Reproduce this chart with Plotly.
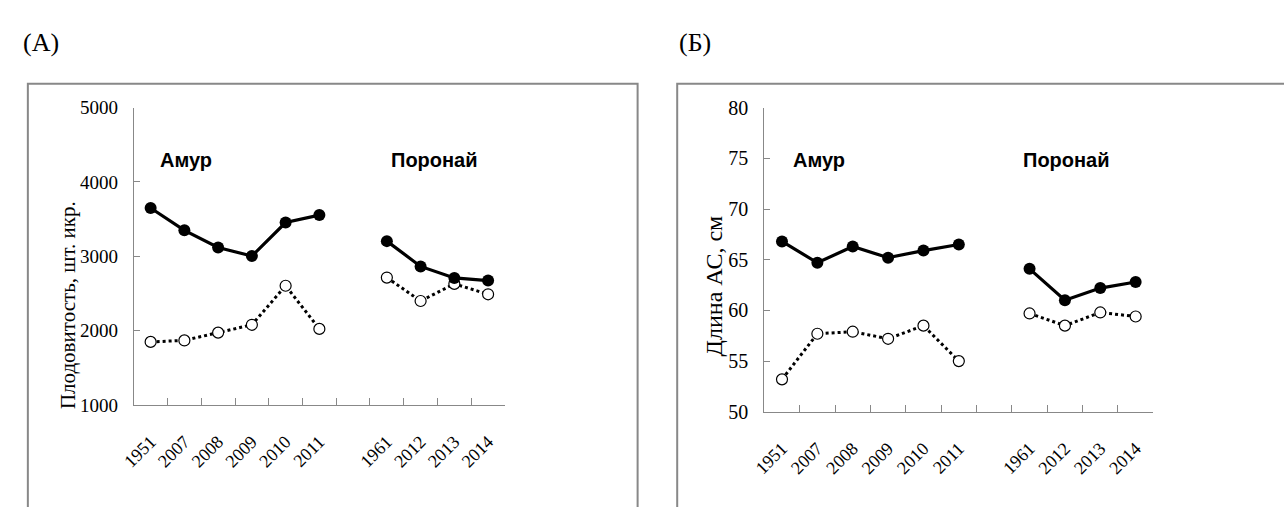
import plotly.graph_objects as go

categories = ["1951", "2007", "2008", "2009", "2010", "2011", " ", "1961", "2012", "2013", "2014"]

fecundity_solid = [3650, 3350, 3120, 3005, 3455, 3555, None, 3205, 2865, 2710, 2675]
fecundity_dotted = [1850, 1870, 1975, 2080, 2605, 2025, None, 2715, 2400, 2630, 2490]

length_solid = [66.8, 64.7, 66.3, 65.2, 65.9, 66.5, None, 64.1, 61.0, 62.2, 62.8]
length_dotted = [53.2, 57.7, 57.9, 57.2, 58.5, 55.0, None, 59.7, 58.5, 59.8, 59.4]

y_ticks_a = [1000, 2000, 3000, 4000, 5000]
y_ticks_b = [50, 55, 60, 65, 70, 75, 80]

W, H = 1284, 507
SERIF = "Liberation Serif"
SANS = "Liberation Sans"
GRAY = "#888888"

def px_x(p):
    return p / W

def px_y(p):
    return 1 - p / H

fig = go.Figure()

def add_pair(solid, dotted, xa, ya):
    fig.add_trace(go.Scatter(
        x=categories, y=dotted, xaxis=xa, yaxis=ya, mode="lines+markers",
        line=dict(color="black", width=3, dash="dot"),
        marker=dict(symbol="circle", size=11, color="white", line=dict(color="black", width=1.2)),
        connectgaps=False, showlegend=False))
    fig.add_trace(go.Scatter(
        x=categories, y=solid, xaxis=xa, yaxis=ya, mode="lines+markers",
        line=dict(color="black", width=3.2),
        marker=dict(symbol="circle", size=12, color="black"),
        connectgaps=False, showlegend=False))

add_pair(fecundity_solid, fecundity_dotted, "x", "y")
add_pair(length_solid, length_dotted, "x2", "y2")

def xaxis_style(size):
    return dict(
        type="category", categoryorder="array", categoryarray=categories,
        showline=True, linecolor=GRAY, linewidth=1, ticks="inside", ticklen=7,
        tickcolor=GRAY, tickson="boundaries", tickangle=-45, showgrid=False,
        zeroline=False, tickfont=dict(family=SERIF, size=size, color="black"),
        ticklabelstandoff=18,
        range=[-0.5, len(categories) - 0.5])

def yaxis_style(size):
    return dict(
        showline=True, linecolor=GRAY, linewidth=1, ticks="inside", ticklen=6,
        tickcolor=GRAY, showgrid=False, zeroline=False, ticklabelstandoff=11,
        tickfont=dict(family=SERIF, size=size, color="black"))

fig.update_layout(
    width=W, height=H, margin=dict(l=0, r=0, t=0, b=0),
    paper_bgcolor="white", plot_bgcolor="white",
    xaxis=dict(domain=[px_x(122), px_x(497)], anchor="y", **xaxis_style(18)),
    yaxis=dict(domain=[px_y(412), px_y(101)], anchor="x", range=[1000, 5000],
               tickvals=y_ticks_a, **yaxis_style(19)),
    xaxis2=dict(domain=[px_x(759), px_x(1152)], anchor="y2", **xaxis_style(18)),
    yaxis2=dict(domain=[px_y(419), px_y(101)], anchor="x2", range=[50, 80],
                tickvals=y_ticks_b, **yaxis_style(20)),
)

# panel frames
for x0, x1 in [(15, 631), (671, 1290)]:
    fig.add_shape(type="rect", xref="paper", yref="paper",
                  x0=px_x(x0), x1=px_x(x1), y0=px_y(520), y1=px_y(76),
                  line=dict(color=GRAY, width=2), fillcolor="rgba(0,0,0,0)")

annotations = [
    dict(text="(A)", x=px_x(8), y=px_y(33), xanchor="left", yanchor="middle",
         font=dict(family=SERIF, size=26, color="black")),
    dict(text="(Б)", x=px_x(671), y=px_y(33), xanchor="left", yanchor="middle",
         font=dict(family=SERIF, size=26, color="black")),
    dict(text="Плодовитость, шт. икр.", x=px_x(55), y=px_y(307), textangle=-90,
         xanchor="center", yanchor="middle", font=dict(family=SERIF, size=21, color="black")),
    dict(text="Длина АС, см", x=px_x(708), y=px_y(287), textangle=-90,
         xanchor="center", yanchor="middle", font=dict(family=SERIF, size=24, color="black")),
    dict(text="<b>Амур</b>", x=px_x(146), y=px_y(156), xanchor="left", yanchor="middle",
         font=dict(family=SANS, size=20, color="black")),
    dict(text="<b>Поронай</b>", x=px_x(380), y=px_y(156), xanchor="left", yanchor="middle",
         font=dict(family=SANS, size=20, color="black")),
    dict(text="<b>Амур</b>", x=px_x(786), y=px_y(156), xanchor="left", yanchor="middle",
         font=dict(family=SANS, size=20, color="black")),
    dict(text="<b>Поронай</b>", x=px_x(1018), y=px_y(156), xanchor="left", yanchor="middle",
         font=dict(family=SANS, size=20, color="black")),
]
for a in annotations:
    a.update(xref="paper", yref="paper", showarrow=False)
fig.update_layout(annotations=annotations)

fig.write_html("out.html")
